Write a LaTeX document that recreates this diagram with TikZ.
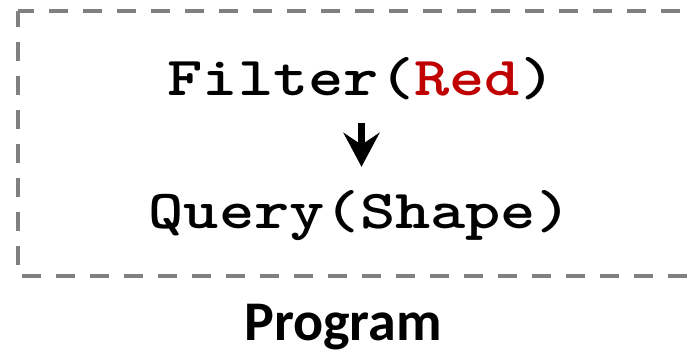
\documentclass[tikz,border=0pt]{standalone}
\usepackage{fontspec}
\usetikzlibrary{arrows.meta}
\newfontfamily\lblfont{Carlito}
\definecolor{darkred}{HTML}{C00000}
\definecolor{boxgray}{HTML}{808080}
\newcommand{\codetext}[1]{\scalebox{1.22}[1]{#1}}
\tikzset{
  code/.style={font=\ttfamily\bfseries\fontsize{55}{60}\selectfont, inner sep=0pt, text height=33pt, text depth=0pt, anchor=base},
  label/.style={font=\lblfont\bfseries\fontsize{56}{60}\selectfont, inner sep=0pt, anchor=base},
  frame/.style={draw=boxgray, line width=4pt, dash pattern=on 19pt off 15pt, dash phase=3pt},
  arr/.style={line width=7pt, -{Stealth[length=34pt,width=36pt,inset=12pt]}},
}
\begin{document}
\begin{tikzpicture}[x=1pt,y=-1pt]
\useasboundingbox (0,0) rectangle (692,355);
\clip (0,0) rectangle (692,355);
\draw[frame] (18,11) -- (18,276) -- (720,276);
\draw[frame] (18,11) -- (720,11);
\node[code] (f) at (361.5,96) {\codetext{Filter(\textcolor{darkred}{Red})}};
\node[code] (q) at (360,228) {\codetext{Query(Shape)}};
\draw[arr, shorten <=27pt, shorten >=28pt] (f.south) -- (f.south |- q.north);
\node[label] (p) at (343,340) {Program};
\end{tikzpicture}
\end{document}
